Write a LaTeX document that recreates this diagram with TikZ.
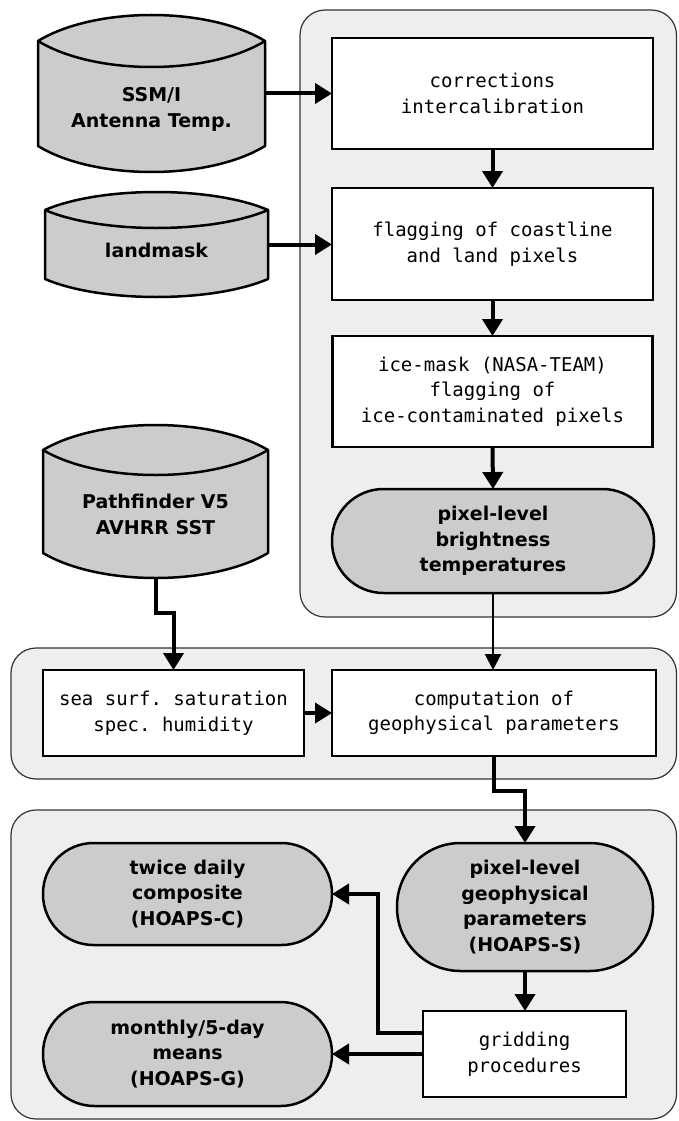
\documentclass[tikz,border=0pt]{standalone}
\usepackage{fontspec}
\setmonofont{DejaVu Sans Mono}
\newfontfamily\bsans{DejaVu Sans}
\usetikzlibrary{arrows.meta}
\definecolor{panelgray}{HTML}{EEEEEE}
\definecolor{shapegray}{HTML}{CCCCCC}
\definecolor{panelline}{HTML}{333333}
\newcommand\drawcyl[5]{%
 \draw[cylfill] (#1,{#3+#5}) .. controls ({#1+0.25*(#2-#1)},{#3+#5-4*#5/3}) and ({#2-0.25*(#2-#1)},{#3+#5-4*#5/3}) .. (#2,{#3+#5})
   -- (#2,{#4-#5}) .. controls ({#2-0.25*(#2-#1)},{#4-#5+4*#5/3}) and ({#1+0.25*(#2-#1)},{#4-#5+4*#5/3}) .. (#1,{#4-#5}) -- cycle;
 \draw[cylfill,fill=none] (#1,{#3+#5}) .. controls ({#1+0.25*(#2-#1)},{#3+#5+4*#5/3}) and ({#2-0.25*(#2-#1)},{#3+#5+4*#5/3}) .. (#2,{#3+#5});
}
\tikzset{
 panelbox/.style={fill=panelgray, draw=panelline, line width=1.2pt, rounded corners=25pt},
 cylfill/.style={fill=shapegray, draw=black, line width=2.5pt, line join=round},
 cylnode/.style={inner sep=0pt, outer sep=0pt},
 boldtext/.style={align=center, inner sep=0pt, font={\bsans\bfseries\fontsize{19}{25.5}\selectfont}},
 procbox/.style={draw=black, fill=white, line width=2.5pt, inner sep=0pt, outer sep=0pt, align=center, font={\ttfamily\fontsize{19}{25.5}\selectfont}},
 termbox/.style={draw=black, fill=shapegray, line width=2.5pt, inner sep=0pt, outer sep=0pt, align=center, font={\bsans\bfseries\fontsize{19}{25.5}\selectfont}},
 conn/.style={line width=4pt, line join=miter, -{Triangle[length=17pt,width=20pt]}},
 thinconn/.style={line width=2pt, -{Triangle[length=16pt,width=16pt]}}
}
\begin{document}
\begin{tikzpicture}[x=1pt,y=-1pt]
\useasboundingbox (0,0) rectangle (678,1121);
% panels
\draw[panelbox] (300,10) rectangle (676.5,617);
\draw[panelbox] (11,648) rectangle (676.5,779);
\draw[panelbox] (11,810) rectangle (676.5,1119);
% cylinders
\drawcyl{38}{265}{15}{172}{26}
\drawcyl{45}{268}{192}{297}{18}
\drawcyl{43}{268}{425}{578}{25}
\node[cylnode, minimum width=227pt, minimum height=157pt] (ssm) at (151.5,93.5) {};
\node[boldtext] (ssmtext) at ([yshift=-16pt]ssm.center) {SSM/I\\Antenna Temp.};
\node[cylnode, minimum width=223pt, minimum height=105pt] (land) at (156.5,244.5) {};
\node[boldtext] (landtext) at ([yshift=-6pt]land.center) {landmask};
\node[cylnode, minimum width=225pt, minimum height=153pt] (path) at (155.5,501.5) {};
\node[boldtext] (pathtext) at ([yshift=-13pt]path.center) {Pathfinder V5\\AVHRR SST};
% process boxes
\node[procbox, minimum width=321pt, minimum height=111pt] (corr) at (492.5,93.5) {corrections\\intercalibration};
\node[procbox, minimum width=321pt, minimum height=112pt] (flag) at (492.5,244) {flagging of coastline\\and land pixels};
\node[procbox, minimum width=320pt, minimum height=111pt] (ice) at (492.5,391.5) {ice-mask (NASA-TEAM)\\flagging of\\ice-contaminated pixels};
\node[termbox, minimum width=322pt, minimum height=104pt, rounded corners=51.5pt] (bright) at (493,541) {pixel-level\\brightness\\temperatures};
\node[procbox, minimum width=261pt, minimum height=86pt] (sea) at (173.5,713) {sea surf. saturation\\spec. humidity};
\node[procbox, minimum width=324pt, minimum height=86pt] (comp) at (494,713) {computation of\\geophysical parameters};
\node[termbox, minimum width=256pt, minimum height=128pt, rounded corners=63.5pt] (hs) at (525,907) {pixel-level\\geophysical\\parameters\\(HOAPS-S)};
\node[termbox, minimum width=289pt, minimum height=102pt, rounded corners=50.5pt] (twice) at (187.5,894) {twice daily\\composite\\(HOAPS-C)};
\node[termbox, minimum width=289pt, minimum height=104pt, rounded corners=51.5pt] (monthly) at (187.5,1054) {monthly/5-day\\means\\(HOAPS-G)};
\node[procbox, minimum width=203pt, minimum height=86pt] (grid) at (524.5,1054) {gridding\\procedures};
% connectors
\draw[conn] (ssm.east) -- (corr.west);
\draw[conn] (land.east) -- (land.east -| flag.west);
\draw[conn] (corr.south) -- (flag.north);
\draw[conn] (flag.south) -- (ice.north);
\draw[conn] (ice.south) -- (bright.north);
\draw[thinconn] (bright.south) -- (bright.south |- comp.north);
\draw[conn] (path.south) -- ++(0,35) -| (sea.north);
\draw[conn] (sea.east) -- (comp.west);
\draw[conn] (comp.south) -- ++(0,35) -| (hs.north);
\draw[conn] (hs.south) -- (hs.south |- grid.north);
\coordinate (bend) at (378,894);
\draw[conn] ([yshift=21pt]grid.west) -| (bend) -- (twice.east);
\draw[conn] (grid.west) -- (monthly.east);
\end{tikzpicture}
\end{document}
